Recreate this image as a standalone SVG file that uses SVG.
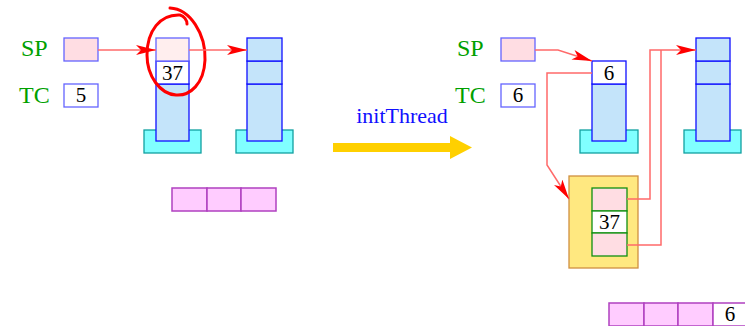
<svg xmlns="http://www.w3.org/2000/svg" width="745" height="326" viewBox="0 0 745 326">
  <style>
    text { font-family: 'Liberation Serif', 'DejaVu Serif', serif; }
    .lbl { font-size: 24px; fill: #00a000; }
    .num { font-size: 21px; fill: #000; text-anchor: middle; }
    .op { font-size: 22px; fill: #1010ff; text-anchor: middle; }
    .reg { stroke: #6464ff; stroke-width: 1.3; }
    .cell { stroke: #1010ff; stroke-width: 1.3; }
    .blue { fill: #c4e4fa; }
    .pink { fill: #ffdde3; }
    .white { fill: #ffffff; }
    .base { fill: #80ffff; stroke: #10a0a0; stroke-width: 1.3; }
    .heap { fill: #ffccff; stroke: #b040c0; stroke-width: 1.5; }
    .gcell { stroke: #109010; stroke-width: 1.3; }
    .link { fill: none; stroke: #ff6a6a; stroke-width: 1.5; }
  </style>
  <defs>
    <marker id="arr" viewBox="0 0 20 10" refX="20" refY="5" markerWidth="20" markerHeight="10" markerUnits="userSpaceOnUse" orient="auto">
      <path d="M0,0 L20,5 L0,10 L5,5 z" fill="#ff0000"/>
    </marker>
  </defs>

  <!-- state before -->
  <g id="sp-before">
    <text class="lbl" x="21" y="56">SP</text>
    <rect class="reg pink" x="64" y="38" width="34" height="23"/>
  </g>
  <g id="tc-before">
    <text class="lbl" x="19" y="103">TC</text>
    <rect class="reg white" x="64" y="84" width="34" height="23"/>
    <text class="num" x="81" y="102">5</text>
  </g>
  <g id="stack1-before">
    <rect class="base" x="144" y="130" width="57" height="23"/>
    <rect class="cell blue" x="156" y="84" width="33" height="57"/>
    <rect class="cell white" x="156" y="61" width="33" height="23"/>
    <rect class="reg" fill="#ffeeee" x="156" y="38" width="33" height="23"/>
    <text class="num" x="172.5" y="80">37</text>
  </g>
  <g id="stack2-before">
    <rect class="base" x="236" y="130" width="57" height="23"/>
    <rect class="cell blue" x="247" y="84" width="35" height="57"/>
    <rect class="cell blue" x="247" y="61" width="35" height="23"/>
    <rect class="cell blue" x="247" y="38" width="35" height="23"/>
  </g>
  <g id="heap-before">
    <rect class="heap" x="172" y="188" width="35" height="23"/>
    <rect class="heap" x="207" y="188" width="34" height="23"/>
    <rect class="heap" x="241" y="188" width="35" height="23"/>
  </g>
  <g id="mark">
    <path d="M170,8 C190,9 206,34 205,60 C204,84 190,96 176,95 C160,94 147,76 147,55 C147,31 160,14 180,15 C184,16 187,20 187,24" fill="none" stroke="#ff0000" stroke-width="3" stroke-linecap="round"/>
  </g>

  <!-- transition -->
  <g id="transition">
    <text class="op" x="402" y="123">initThread</text>
    <path d="M333,143 L450,143 L450,136 L472,147.5 L450,159 L450,152 L333,152 z" fill="#ffd000"/>
  </g>

  <!-- state after -->
  <g id="sp-after">
    <text class="lbl" x="457" y="56">SP</text>
    <rect class="reg pink" x="501" y="38" width="34" height="23"/>
  </g>
  <g id="tc-after">
    <text class="lbl" x="455" y="103">TC</text>
    <rect class="reg white" x="501" y="84" width="34" height="23"/>
    <text class="num" x="518" y="102">6</text>
  </g>
  <g id="stack1-after">
    <rect class="base" x="580" y="130" width="58" height="23"/>
    <rect class="cell blue" x="592" y="84" width="34" height="57"/>
    <rect class="cell white" x="592" y="61" width="34" height="23"/>
    <text class="num" x="609" y="80">6</text>
  </g>
  <g id="stack2-after">
    <rect class="base" x="684" y="130" width="57" height="23"/>
    <rect class="cell blue" x="696" y="84" width="34" height="57"/>
    <rect class="cell blue" x="696" y="61" width="34" height="23"/>
    <rect class="cell blue" x="696" y="38" width="34" height="23"/>
  </g>
  <g id="frame">
    <rect x="569" y="176" width="69" height="92" fill="#ffe880" stroke="#d09040" stroke-width="1.3"/>
    <rect class="gcell pink" x="592" y="188" width="35" height="23"/>
    <rect class="gcell white" x="592" y="211" width="35" height="22"/>
    <rect class="gcell pink" x="592" y="233" width="35" height="23"/>
    <text class="num" x="609.5" y="229">37</text>
  </g>
  <g id="heap-after">
    <rect class="heap" x="609" y="303" width="35" height="23"/>
    <rect class="heap" x="644" y="303" width="34" height="23"/>
    <rect class="heap" x="678" y="303" width="35" height="23"/>
    <rect x="713" y="303" width="36" height="23" fill="#fff" stroke="#b040c0" stroke-width="1.5"/>
    <text class="num" x="730" y="321">6</text>
  </g>

  <g id="connectors">
    <line class="link" x1="98" y1="50" x2="156" y2="50" marker-end="url(#arr)"/>
    <line class="link" x1="189" y1="50" x2="247" y2="50" marker-end="url(#arr)"/>
    <polyline class="link" points="535,50 558,50 592,61" marker-end="url(#arr)"/>
    <polyline class="link" points="592,73 547,73 547,165 569,199" marker-end="url(#arr)"/>
    <polyline class="link" points="627,199 650,199 650,50 696,50" marker-end="url(#arr)"/>
    <polyline class="link" points="627,245 661,245 661,50"/>
  </g>
</svg>
